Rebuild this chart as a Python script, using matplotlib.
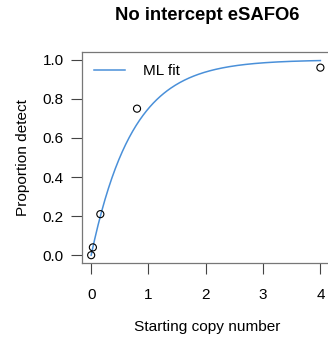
import numpy as np
import matplotlib
matplotlib.use('Agg')
import matplotlib.pyplot as plt

copies = [0.0, 0.03, 0.16, 0.8, 4.0]
detect = [0.0, 0.04, 0.21, 0.75, 0.96]
rate = 1.39  # ML fit, p = 1 - exp(-rate * x)
xticks = [0, 1, 2, 3, 4]
yticks = [0.0, 0.2, 0.4, 0.6, 0.8, 1.0]

plt.rcParams['font.family'] = ['Liberation Sans', 'DejaVu Sans']

def main():
  fig = plt.figure(figsize=(3.28, 3.39), dpi=100)
  ax = fig.add_axes([82 / 328, 1 - 263 / 339, 251 / 328, 211 / 339])
  xs = np.linspace(0, 4, 200)
  ax.plot(xs, 1 - np.exp(-rate * xs), color='#4a90d9', lw=1.1, label='ML fit')
  ax.scatter(copies, detect, s=26, facecolors='none', edgecolors='black', lw=0.8, zorder=3)
  ax.set_xlim(-0.16, 4.22)
  ax.set_ylim(-0.04, 1.04)
  ax.set_xticks(xticks)
  ax.set_xticklabels([str(t) for t in xticks])
  ax.set_yticks(yticks)
  ax.set_yticklabels(['%.1f' % t for t in yticks])
  ax.tick_params(direction='out', length=8, width=0.8, colors='#444444', labelcolor='black',
                 labelsize=11, pad=5)
  ax.tick_params(axis='x', pad=10)
  for s in ax.spines.values():
    s.set_color('#777777')
    s.set_linewidth(0.9)
  ax.set_xlabel('Starting copy number', fontsize=11.1, labelpad=13)
  ax.set_ylabel('Proportion detect', fontsize=11.1, labelpad=9)
  ax.legend(loc='upper left', frameon=False, fontsize=11, handlelength=2.0,
            handletextpad=1.2, borderaxespad=0.4)
  fig.text(207 / 328, 1 - 15 / 339, 'No intercept eSAFO6', ha='center', va='center',
           fontsize=13.3, fontweight='bold')
  fig.savefig('out.png', dpi=100)

if __name__ == '__main__':
  main()
